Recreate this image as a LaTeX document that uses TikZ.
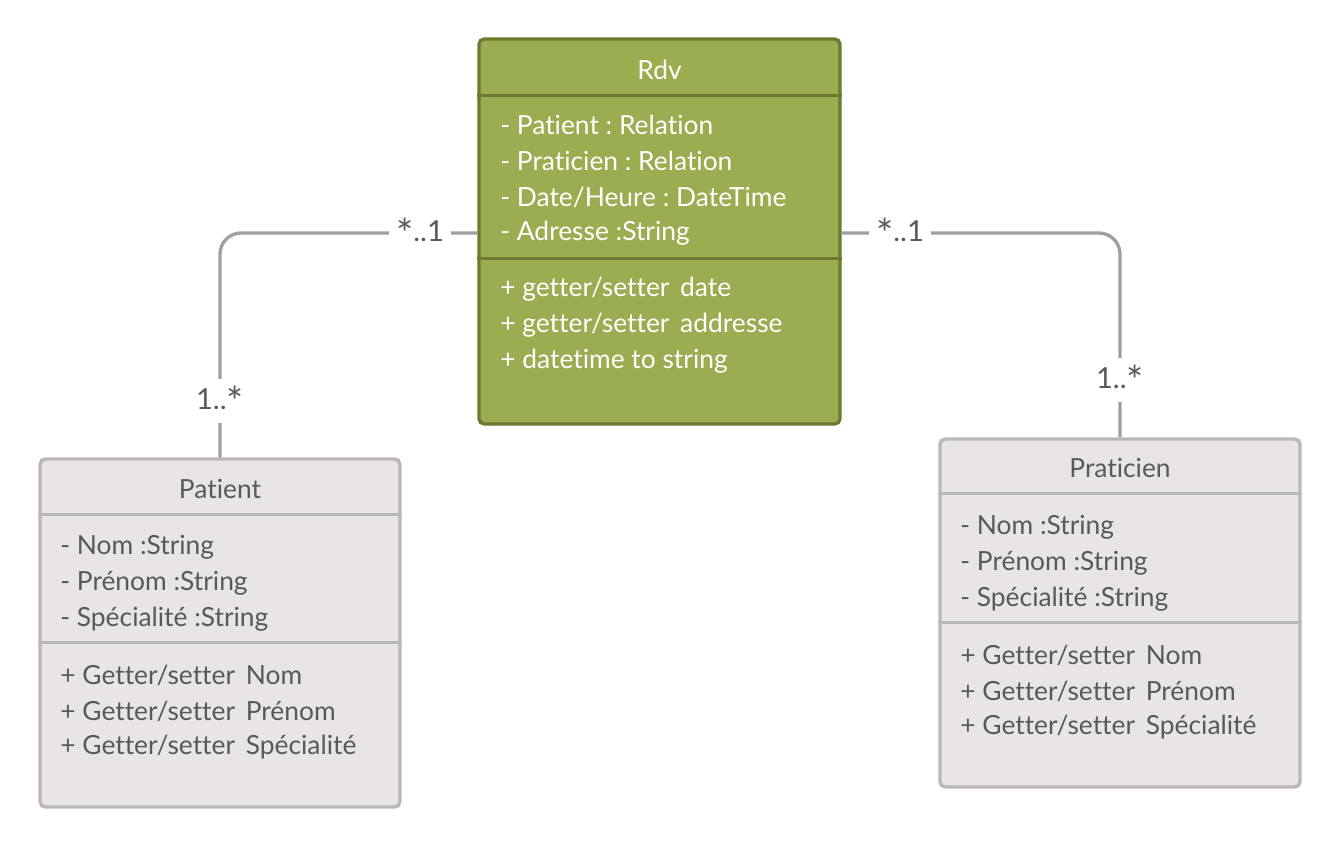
\documentclass[tikz,border=0pt]{standalone}
\usepackage{fontspec}
\setmainfont{Lato}[Ligatures=NoCommon]
\usetikzlibrary{positioning}
\frenchspacing
\definecolor{RdvFill}{HTML}{9AAD50}
\definecolor{RdvLine}{HTML}{6B7A2F}
\definecolor{ClassFill}{HTML}{E8E4E8}
\definecolor{ClassLine}{HTML}{B9B7BA}
\definecolor{ClassText}{HTML}{595959}
\definecolor{AssocLine}{HTML}{A0A0A0}
\newcommand{\multstar}{\raisebox{-0.22em}{\fontsize{23}{23}\selectfont *}}
\tikzstyle{class_box}=[rectangle,
                       minimum width=7.2cm,
                       minimum height=6.96cm,
                       draw=ClassLine,
                       fill=ClassFill,
                       line width=1.9pt,
                       rounded corners=3, ]
\tikzstyle{rdv_box}=[class_box,
                     minimum width=7.22cm,
                     minimum height=7.7cm,
                     draw=RdvLine,
                     fill=RdvFill, ]
\tikzstyle{member}=[anchor=west,
                    inner sep=0pt,
                    text=ClassText,
                    font=\fontsize{15}{18}\selectfont, ]
\tikzstyle{assoc}=[draw=AssocLine,
                   line width=1.9pt,
                   rounded corners=12, ]
\tikzstyle{mult}=[fill=white,
                  inner sep=4pt,
                  text=ClassText,
                  font=\fontsize{16.5}{18}\selectfont, ]

\begin{document}
\begin{tikzpicture}
    \useasboundingbox (0,0) rectangle (26.8cm,-16.96cm);

    % classes
    \node at (13.19cm, -4.63cm) (rdv) [rdv_box] {};
    \node at (4.4cm, -12.66cm) (patient) [class_box] {};
    \node at (22.4cm, -12.26cm) (praticien) [class_box] {};

    \foreach \c/\col/\sa/\sb in {rdv/RdvLine/1.16/4.42,
                                 patient/ClassLine/1.14/3.7,
                                 praticien/ClassLine/1.12/3.7} {
      \draw[line width=1.9pt, draw=\col]
        ([yshift=-\sa cm]\c.north west) -- ([yshift=-\sa cm]\c.north east);
      \draw[line width=1.9pt, draw=\col]
        ([yshift=-\sb cm]\c.north west) -- ([yshift=-\sb cm]\c.north east);
    }

    % titles
    \node at (13.19cm, -1.4cm) (rdv_title) [member, anchor=center, text=white] {Rdv};
    \node at (4.4cm, -9.78cm) (patient_title) [member, anchor=center] {Patient};
    \node at (22.4cm, -9.36cm) (praticien_title) [member, anchor=center] {Praticien};

    % Rdv
    \foreach \i/\t in {0/{- Patient : Relation},
                       1/{- Praticien : Relation},
                       2/{- Date/Heure : DateTime},
                       3/{- Adresse :String} } {
      \node at (10.0cm, -2.5cm - 0.72cm * \i) (rdv_a\i) [member, text=white] {\t};
    }
    \foreach \i/\t in {0/{+ getter/setter\hspace{0.15em} date},
                       1/{+ getter/setter\hspace{0.15em} addresse},
                       2/{+ datetime to string} } {
      \node at (10.0cm, -5.78cm - 0.72cm * \i) (rdv_m\i) [member, text=white] {\t};
    }

    % Patient and Praticien
    \foreach \c/\x/\y in {patient/1.2/10.94, praticien/19.2/10.54} {
      \foreach \i/\t in {0/{- Nom :String},
                         1/{- Prénom :String},
                         2/{- Spécialité :String} } {
        \node at (\x cm, -\y cm - 0.72cm * \i) (\c_a\i) [member] {\t};
      }
      \foreach \i/\t in {0/{+ Getter/setter\hspace{0.15em} Nom},
                         1/{+ Getter/setter\hspace{0.15em} Prénom},
                         2/{+ Getter/setter\hspace{0.15em} Spécialité} } {
        \node at (\x cm, -\y cm - 2.56cm - 0.72cm * \i) (\c_m\i) [member] {\t};
      }
    }

    % associations
    \draw[assoc] (rdv.west |- rdv_a3) -| (patient.north);
    \draw[assoc] (rdv.east |- rdv_a3) -| (praticien.north);

    \node at (8.4cm, -4.66cm) (rdv_patient_mult) [mult] {\multstar..1};
    \node at (4.4cm, -8.02cm) (patient_rdv_mult) [mult] {1..\multstar};
    \node at (18.0cm, -4.66cm) (rdv_praticien_mult) [mult] {\multstar..1};
    \node at (22.4cm, -7.6cm) (praticien_rdv_mult) [mult] {1..\multstar};
  \end{tikzpicture}
\end{document}
